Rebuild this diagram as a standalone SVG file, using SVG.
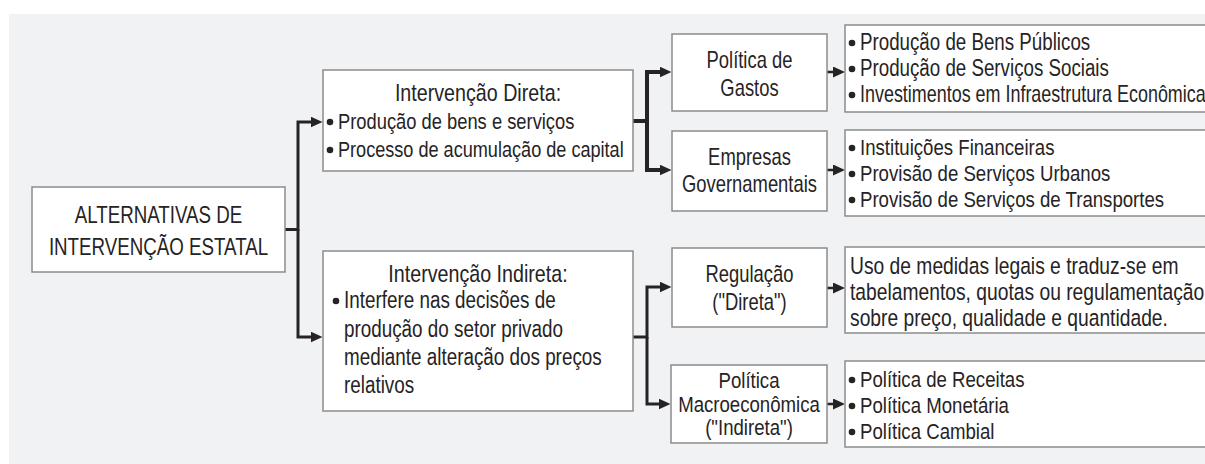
<svg xmlns="http://www.w3.org/2000/svg" width="1205" height="464" viewBox="0 0 1205 464">
<style>
.box{fill:#ffffff;stroke:#8c8c8c;stroke-width:1.5}
.t{font-family:"Liberation Sans",Arial,sans-serif;fill:#262324}
.c{text-anchor:middle}
.s23{font-size:23px}
.s22{font-size:22.5px}
.s24{font-size:24px}
.s235{font-size:23.5px}
.s245{font-size:24.5px}
.dot{fill:#262324}
.ln{fill:none;stroke:#262324;stroke-width:3}
.thick{stroke-width:4}
.thin{stroke-width:2.5}
</style>
<defs>
<marker id="arr" markerUnits="userSpaceOnUse" markerWidth="13" markerHeight="11" refX="5" refY="5.5" orient="auto">
<path d="M0,0 L12,5.5 L0,11 z" fill="#262324"/>
</marker>
</defs>
<rect x="9" y="14" width="1196" height="450" fill="#f1f2f4"/>

<g id="connectors">
<path class="ln" d="M285,229.5 H298 V122 H315.5" marker-end="url(#arr)"/>
<path class="ln" d="M298,229.5 V337 H315.5" marker-end="url(#arr)"/>
<path class="ln thick" d="M633,121 H647 V72 H664.5" marker-end="url(#arr)"/>
<path class="ln thick" d="M647,121 V170 H664.5" marker-end="url(#arr)"/>
<path class="ln" d="M633,337 H647 V287 H664.5" marker-end="url(#arr)"/>
<path class="ln" d="M647,337 V404 H663.5" marker-end="url(#arr)"/>
<path class="ln thin" d="M827,72 H838" marker-end="url(#arr)"/>
<path class="ln thin" d="M827,170 H838" marker-end="url(#arr)"/>
<path class="ln thin" d="M827,288 H838" marker-end="url(#arr)"/>
<path class="ln thin" d="M827,404 H838" marker-end="url(#arr)"/>
</g>

<g id="n-alternativas">
<rect class="box" x="32" y="187" width="253" height="85"/>
<text class="t c s245" transform="translate(158.5,223) scale(0.765,1)">ALTERNATIVAS DE</text>
<text class="t c s245" transform="translate(158.5,255) scale(0.765,1)">INTERVENÇÃO ESTATAL</text>
</g>

<g id="n-direta">
<rect class="box" x="323" y="70" width="310" height="101"/>
<text class="t c s24" transform="translate(478,101) scale(0.82,1)">Intervenção Direta:</text>
<circle class="dot" cx="330" cy="122" r="3.3"/>
<text class="t s22" transform="translate(338,129) scale(0.815,1)">Produção de bens e serviços</text>
<circle class="dot" cx="330" cy="150" r="3.3"/>
<text class="t s22" transform="translate(338,157) scale(0.805,1)">Processo de acumulação de capital</text>
</g>

<g id="n-indireta">
<rect class="box" x="323" y="251" width="310" height="160"/>
<text class="t c s24" transform="translate(478,282) scale(0.82,1)">Intervenção Indireta:</text>
<circle class="dot" cx="336" cy="301" r="3.3"/>
<text class="t s23" transform="translate(344,308) scale(0.82,1)">Interfere nas decisões de</text>
<text class="t s23" transform="translate(344,336.5) scale(0.82,1)">produção do setor privado</text>
<text class="t s23" transform="translate(344,365) scale(0.82,1)">mediante alteração dos preços</text>
<text class="t s23" transform="translate(344,393) scale(0.82,1)">relativos</text>
</g>

<g id="n-gastos">
<rect class="box" x="672" y="34" width="155" height="77"/>
<text class="t c s23" transform="translate(749.5,67.5) scale(0.8,1)">Política de</text>
<text class="t c s23" transform="translate(749.5,95.5) scale(0.8,1)">Gastos</text>
</g>

<g id="n-empresas">
<rect class="box" x="672" y="131" width="155" height="80"/>
<text class="t c s23" transform="translate(749.5,165) scale(0.8,1)">Empresas</text>
<text class="t c s23" transform="translate(749.5,192) scale(0.8,1)">Governamentais</text>
</g>

<g id="n-regulacao">
<rect class="box" x="672" y="248" width="155" height="79"/>
<text class="t c s23" transform="translate(749.5,281.5) scale(0.8,1)">Regulação</text>
<text class="t c s23" transform="translate(749.5,309.5) scale(0.8,1)">("Direta")</text>
</g>

<g id="n-macro">
<rect class="box" x="671" y="365" width="156" height="78"/>
<text class="t c s23" transform="translate(749,388) scale(0.81,1)">Política</text>
<text class="t c s23" transform="translate(749,411.5) scale(0.81,1)">Macroeconômica</text>
<text class="t c s23" transform="translate(749,435) scale(0.81,1)">("Indireta")</text>
</g>

<g id="n-gastos-itens">
<rect class="box" x="845" y="25" width="370" height="87"/>
<circle class="dot" cx="852" cy="43" r="3.3"/>
<text class="t s23" transform="translate(860,50) scale(0.815,1)">Produção de Bens Públicos</text>
<circle class="dot" cx="852" cy="69" r="3.3"/>
<text class="t s23" transform="translate(860,76) scale(0.815,1)">Produção de Serviços Sociais</text>
<circle class="dot" cx="852" cy="95" r="3.3"/>
<text class="t s23" transform="translate(860,102) scale(0.78,1)">Investimentos em Infraestrutura Econômica</text>
</g>

<g id="n-empresas-itens">
<rect class="box" x="845" y="130" width="370" height="86"/>
<circle class="dot" cx="852" cy="148" r="3.3"/>
<text class="t s23" transform="translate(860,155) scale(0.81,1)">Instituições Financeiras</text>
<circle class="dot" cx="852" cy="174" r="3.3"/>
<text class="t s23" transform="translate(860,181) scale(0.81,1)">Provisão de Serviços Urbanos</text>
<circle class="dot" cx="852" cy="200" r="3.3"/>
<text class="t s23" transform="translate(860,207) scale(0.81,1)">Provisão de Serviços de Transportes</text>
</g>

<g id="n-regulacao-desc">
<rect class="box" x="845" y="247" width="370" height="86"/>
<text class="t s235" transform="translate(850,274) scale(0.82,1)">Uso de medidas legais e traduz-se em</text>
<text class="t s235" transform="translate(850,300) scale(0.82,1)">tabelamentos, quotas ou regulamentação</text>
<text class="t s235" transform="translate(850,326) scale(0.82,1)">sobre preço, qualidade e quantidade.</text>
</g>

<g id="n-macro-itens">
<rect class="box" x="845" y="361" width="370" height="86"/>
<circle class="dot" cx="852" cy="380" r="3.3"/>
<text class="t s23" transform="translate(860,387) scale(0.81,1)">Política de Receitas</text>
<circle class="dot" cx="852" cy="406" r="3.3"/>
<text class="t s23" transform="translate(860,413) scale(0.81,1)">Política Monetária</text>
<circle class="dot" cx="852" cy="432" r="3.3"/>
<text class="t s23" transform="translate(860,439) scale(0.81,1)">Política Cambial</text>
</g>
</svg>
